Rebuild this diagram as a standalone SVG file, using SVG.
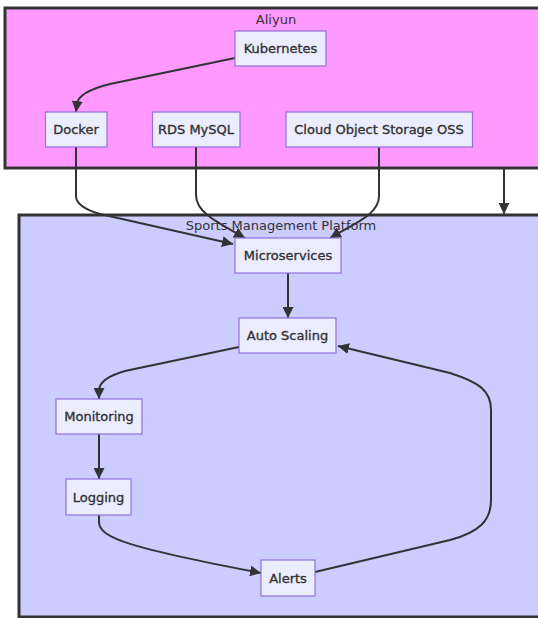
<svg xmlns="http://www.w3.org/2000/svg" width="538" height="618" viewBox="0 0 538 618">
<style>
.cluster{stroke:#333;stroke-width:3}
.node rect{fill:#ECECFF;stroke:#9370DB;stroke-width:1.2}
.node text{font-family:"DejaVu Sans",sans-serif;font-size:13px;fill:#333;stroke:#333;stroke-width:0.35;text-anchor:middle;dominant-baseline:central}
.clabel{font-family:"DejaVu Sans",sans-serif;font-size:13px;fill:#333;text-anchor:middle}
.edges path{fill:none;stroke:#333;stroke-width:2;marker-end:url(#arrow)}
</style>
<defs>
<marker id="arrow" markerUnits="userSpaceOnUse" viewBox="0 0 10 10" refX="10" refY="5" markerWidth="11" markerHeight="11" orient="auto">
<path d="M0,0 L10,5 L0,10 z" fill="#333"/>
</marker>
</defs>
<rect width="538" height="618" fill="#ffffff"/>
<g id="cluster-aliyun">
<rect class="cluster" x="5" y="8" width="540" height="160" fill="#ff99ff"/>
<text class="clabel" x="276" y="24">Aliyun</text>
</g>
<g id="cluster-sports">
<rect class="cluster" x="19" y="215" width="530" height="402" fill="#ccccff"/>
<text class="clabel" x="281" y="230">Sports Management Platform</text>
</g>
<g class="edges" id="edges">
<path d="M235,58 L110,84 Q78,92 77,104 L76,112"/>
<path d="M76,147 L76,196 Q76,207 100,214 L233,244"/>
<path d="M196,147 L196,195 C196,212 215,221 245,238"/>
<path d="M379,147 L379,196 C379,214 357,222 330,238"/>
<path d="M504,169 L504,214"/>
<path d="M288,273 L288,318"/>
<path d="M239,347 L125,371 Q100,378 99,390 L99,399"/>
<path d="M99,434 L99,479"/>
<path d="M99,515 L99,522 C99,538 130,548 261,573"/>
<path d="M315,572 L450,540 C480,532 491,520 491,500 L491,410 C491,390 478,382 450,373 L338,346"/>
</g>
<g class="node" id="kubernetes"><rect x="235" y="31" width="91" height="35"/><text x="280.5" y="48.5">Kubernetes</text></g>
<g class="node" id="docker"><rect x="45.5" y="112" width="61.5" height="35"/><text x="76" y="129.5">Docker</text></g>
<g class="node" id="rds"><rect x="152.5" y="112" width="87.5" height="35"/><text x="196" y="129.5">RDS MySQL</text></g>
<g class="node" id="oss"><rect x="286" y="112" width="186.5" height="35"/><text x="379" y="129.5">Cloud Object Storage OSS</text></g>
<g class="node" id="microservices"><rect x="235" y="238" width="106" height="35"/><text x="288" y="255.5">Microservices</text></g>
<g class="node" id="autoscaling"><rect x="239" y="318" width="97" height="35"/><text x="287.5" y="335.5">Auto Scaling</text></g>
<g class="node" id="monitoring"><rect x="56" y="399" width="86" height="35"/><text x="99" y="416.5">Monitoring</text></g>
<g class="node" id="logging"><rect x="66" y="479" width="65" height="36"/><text x="98.5" y="497">Logging</text></g>
<g class="node" id="alerts"><rect x="261" y="560" width="54" height="36"/><text x="288" y="578">Alerts</text></g>
</svg>
